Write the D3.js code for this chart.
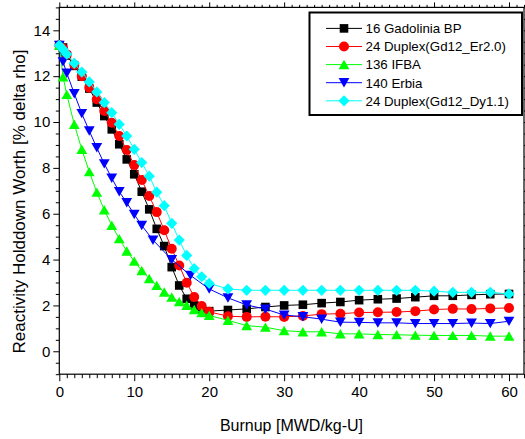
<!DOCTYPE html>
<html><head><meta charset="utf-8">
<script src="https://cdn.jsdelivr.net/npm/d3@7"></script>
<style>body{margin:0;background:#fff}svg{display:block}text{font-family:"Liberation Sans",Arial,sans-serif;fill:#000}</style>
</head><body><svg id="c" width="525" height="439"></svg>
<script>
const xsMain = [0,0.5,1,2,3,4,5,6,7,8,9,10,11,12,13,14,15,16,17,18,19,20,22.5,25,27.5,30,32.5,35,37.5,40,42.5,45,47.5,50,52.5,55,57.5,60];
const xsErbia = [0,0.5,1,2,3,4,5,6,7,8,9,10,11,12.5,15,17.5,20,22.5,25,27.5,30,32.5,35,37.5,40,42.5,45,47.5,50,52.5,55,57.5,60];
const gadolinia = [13.35,13.25,12.9,12.45,11.98,11.46,10.85,10.26,9.68,9.03,8.37,7.72,6.96,6.19,5.34,4.59,3.67,2.87,2.29,2.0,1.85,1.75,1.8,1.85,1.93,2.0,2.03,2.1,2.15,2.23,2.27,2.3,2.36,2.42,2.42,2.46,2.49,2.5];
const duplexEr = [13.35,13.22,12.95,12.5,12.0,11.5,10.99,10.48,9.97,9.39,8.78,8.12,7.47,6.77,6.07,5.28,4.47,3.74,2.99,2.37,1.97,1.72,1.53,1.5,1.51,1.5,1.54,1.62,1.64,1.69,1.7,1.71,1.75,1.82,1.85,1.84,1.87,1.89];
const ifba = [13.35,11.97,11.2,9.9,8.81,7.83,6.94,6.17,5.49,4.91,4.37,3.93,3.52,3.17,2.87,2.58,2.36,2.16,2.0,1.82,1.68,1.56,1.35,1.12,1.05,0.9,0.85,0.85,0.76,0.76,0.73,0.72,0.7,0.69,0.69,0.69,0.66,0.66];
const erbia = [13.35,12.63,12.13,11.24,10.37,9.61,8.88,8.18,7.55,6.96,6.48,5.97,5.49,4.85,4.0,3.31,2.72,2.33,2.02,1.84,1.58,1.51,1.4,1.27,1.26,1.24,1.24,1.21,1.21,1.21,1.23,1.21,1.31];
const duplexDy = [13.35,13.17,12.96,12.56,12.18,11.75,11.31,10.85,10.41,9.9,9.39,8.81,8.23,7.64,6.94,6.35,5.58,4.85,4.18,3.61,3.25,2.96,2.72,2.66,2.66,2.66,2.66,2.66,2.66,2.66,2.66,2.66,2.66,2.62,2.57,2.57,2.57,2.5];
const seriesNames = ["16 Gadolinia BP","24 Duplex(Gd12_Er2.0)","136 IFBA","140 Erbia","24 Duplex(Gd12_Dy1.1)"];
const xTickLabels = [0,10,20,30,40,50,60];
const yTickLabels = [0,2,4,6,8,10,12,14];
const xLabel = "Burnup [MWD/kg-U]";
const yLabel = "Reactivity Holddown Worth [% delta rho]";

const series = [
  {name:seriesNames[0], xs:xsMain, ys:gadolinia, color:"#000000", sym:"square"},
  {name:seriesNames[1], xs:xsMain, ys:duplexEr, color:"#ff0000", sym:"circle"},
  {name:seriesNames[2], xs:xsMain, ys:ifba, color:"#00ff00", sym:"up"},
  {name:seriesNames[3], xs:xsErbia, ys:erbia, color:"#0000ff", sym:"down"},
  {name:seriesNames[4], xs:xsMain, ys:duplexDy, color:"#00ffff", sym:"diamond"}
];

const svg = d3.select("#c");
const L=59.3, R=524, T=7.4, B=374.2;
const x = d3.scaleLinear().domain([0,62]).range([L,R]);
const y = d3.scaleLinear().domain([-1,15]).range([B,T]);

function symPath(s){
  switch(s){
    case "square": return "M-4.3,-4.3H4.3V4.3H-4.3Z";
    case "circle": return "M5,0A5,5 0 1,1 -5,0A5,5 0 1,1 5,0Z";
    case "up": return "M0,-4.8L5.4,4.6L-5.4,4.6Z";
    case "down": return "M0,4.8L5.4,-4.6L-5.4,-4.6Z";
    case "diamond": return "M0,-5.6L5.6,0L0,5.6L-5.6,0Z";
  }
}

// axes
const minorX = d3.range(0,63,1).filter(v=>v%10!==0);
const minorY = d3.range(-1,15.01,0.5).filter(v=>v%2!==0);
function axisGroup(gen, tr){ const g=svg.append("g").attr("transform",tr).call(gen); g.select(".domain").remove(); g.selectAll("line").attr("stroke","#000"); return g; }
// bottom
let g = axisGroup(d3.axisBottom(x).tickValues(xTickLabels).tickSize(7).tickPadding(5).tickFormat(d3.format("d")), `translate(0,${B})`);
g.selectAll("text").style("font-size","15px");
axisGroup(d3.axisBottom(x).tickValues(minorX).tickSize(4).tickFormat(""), `translate(0,${B})`);
// top
axisGroup(d3.axisTop(x).tickValues(xTickLabels).tickSize(5).tickFormat(""), `translate(0,${T})`);
axisGroup(d3.axisTop(x).tickValues(minorX).tickSize(2.5).tickFormat(""), `translate(0,${T})`);
// left
g = axisGroup(d3.axisLeft(y).tickValues(yTickLabels).tickSize(6).tickPadding(3).tickFormat(d3.format("d")), `translate(${L},0)`);
g.selectAll("text").style("font-size","15px");
axisGroup(d3.axisLeft(y).tickValues(minorY).tickSize(3.5).tickFormat(""), `translate(${L},0)`);
// right
axisGroup(d3.axisRight(y).tickValues(yTickLabels).tickSize(5).tickFormat(""), `translate(${R},0)`);
axisGroup(d3.axisRight(y).tickValues(minorY).tickSize(2.5).tickFormat(""), `translate(${R},0)`);

svg.append("rect").attr("x",L).attr("y",T).attr("width",R-L).attr("height",B-T)
  .attr("fill","none").attr("stroke","#000").attr("stroke-width",1.2);

// series
const line = d3.line().x(d=>x(d[0])).y(d=>y(d[1]));
series.forEach(s=>{
  const pts = s.xs.map((v,i)=>[v,s.ys[i]]);
  const gs = svg.append("g");
  gs.append("path").attr("d",line(pts)).attr("fill","none").attr("stroke",s.color).attr("stroke-width",1);
  gs.selectAll("path.m").data(pts).join("path").attr("class","m")
    .attr("transform",d=>`translate(${x(d[0])},${y(d[1])})`).attr("d",symPath(s.sym)).attr("fill",s.color);
});

// legend
const lg = svg.append("g");
lg.append("rect").attr("x",309.5).attr("y",12.5).attr("width",212.5).attr("height",102.5)
  .attr("fill","#fff").attr("stroke","#000").attr("stroke-width",2);
series.forEach((s,i)=>{
  const ry = 28.4 + i*18.1;
  lg.append("line").attr("x1",326).attr("x2",362).attr("y1",ry).attr("y2",ry).attr("stroke",s.color).attr("stroke-width",1);
  lg.append("path").attr("transform",`translate(344,${ry})`).attr("d",symPath(s.sym)).attr("fill",s.color);
  lg.append("text").attr("x",365.5).attr("y",ry+4.8).style("font-size","13.3px").text(s.name);
});

// axis labels
svg.append("text").attr("x",291.5).attr("y",431).attr("text-anchor","middle").style("font-size","16px").text(xLabel);
svg.append("text").attr("transform","translate(24.5,201.5) rotate(-90)").attr("text-anchor","middle").style("font-size","17px").text(yLabel);
</script></body></html>
